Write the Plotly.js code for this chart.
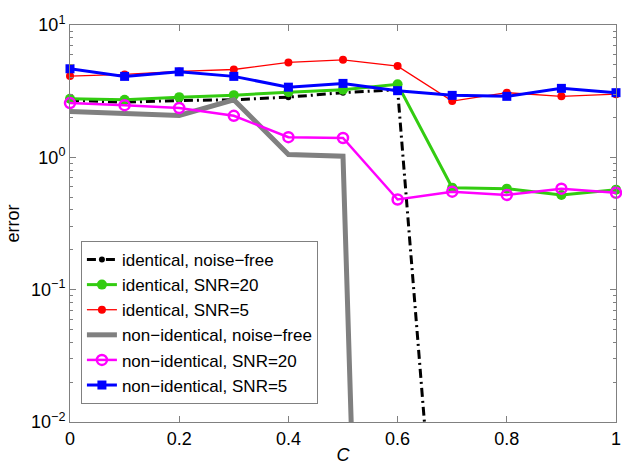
<!DOCTYPE html>
<html>
<head>
<meta charset="utf-8">
<script src="https://cdn.plot.ly/plotly-3.0.1.min.js"></script>
<style>html,body{margin:0;padding:0;background:#fff;}#chart{width:622px;height:467px;}</style>
</head>
<body>
<div id="chart"></div>
<script>
const C = [0, 0.1, 0.2, 0.3, 0.4, 0.5, 0.6, 0.7, 0.8, 0.9, 1.0];

const identicalNoiseFree  = [2.69, 2.61, 2.69, 2.72, 2.85, 3.08, 3.24, 2.5e-5, 1e-5, 1e-5, 1e-5];
const identicalSNR20      = [2.77, 2.72, 2.85, 2.95, 3.10, 3.24, 3.56, 0.59, 0.58, 0.52, 0.57];
const identicalSNR5       = [4.11, 4.23, 4.46, 4.61, 5.21, 5.46, 4.89, 2.66, 3.08, 2.89, 3.00];
const nonIdenticalNoiseFree = [2.22, 2.16, 2.07, 2.72, 1.05, 1.02, 4e-14, 1e-14, 1e-14, 1e-14, 1e-14];
const nonIdenticalSNR20   = [2.57, 2.48, 2.36, 2.06, 1.42, 1.40, 0.48, 0.55, 0.52, 0.58, 0.54];
const nonIdenticalSNR5    = [4.67, 4.09, 4.43, 4.09, 3.39, 3.62, 3.19, 2.94, 2.89, 3.32, 3.08];

const seriesNames = [
  'identical, noise\u2212free',
  'identical, SNR=20',
  'identical, SNR=5',
  'non\u2212identical, noise\u2212free',
  'non\u2212identical, SNR=20',
  'non\u2212identical, SNR=5'
];

const yTickVals = [0.01, 0.1, 1, 10];
const yTickText = ['10<sup>\u22122</sup>', '10<sup>\u22121</sup>', '10<sup>0</sup>', '10<sup>1</sup>'];
const xTickVals = [0, 0.2, 0.4, 0.6, 0.8, 1];
const xTickText = ['0', '0.2', '0.4', '0.6', '0.8', '1'];

const traces = [
  {x: C, y: identicalNoiseFree, name: seriesNames[0], mode: 'lines+markers', cliponaxis: false,
   line: {color: '#000000', width: 3, dash: '9px,4px,2px,4px'},
   marker: {symbol: 'circle', size: 6, color: '#000000'}},
  {x: C, y: identicalSNR20, name: seriesNames[1], mode: 'lines+markers', cliponaxis: false,
   line: {color: '#33cc11', width: 3},
   marker: {symbol: 'circle', size: 10, color: '#33cc11'}},
  {x: C, y: identicalSNR5, name: seriesNames[2], mode: 'lines+markers', cliponaxis: false,
   line: {color: '#ff0000', width: 1.3},
   marker: {symbol: 'circle', size: 8, color: '#ff0000'}},
  {x: C, y: nonIdenticalNoiseFree, name: seriesNames[3], mode: 'lines',
   line: {color: '#808080', width: 5}},
  {x: C, y: nonIdenticalSNR20, name: seriesNames[4], mode: 'lines+markers', cliponaxis: false,
   line: {color: '#ff00ff', width: 2.5},
   marker: {symbol: 'circle-open', size: 10, color: '#ff00ff', line: {width: 2.5, color: '#ff00ff'}}},
  {x: C, y: nonIdenticalSNR5, name: seriesNames[5], mode: 'lines+markers', cliponaxis: false,
   line: {color: '#0000ff', width: 3},
   marker: {symbol: 'square', size: 9, color: '#0000ff'}}
];

const minorY = [];
[0.01, 0.1, 1].forEach(d => { for (let k = 2; k <= 9; k++) minorY.push(d * k); });

const fontFam = 'Liberation Sans, Arial, sans-serif';

const layout = {
  width: 622, height: 467,
  margin: {l: 70, r: 6, t: 25, b: 45},
  paper_bgcolor: '#ffffff', plot_bgcolor: '#ffffff',
  font: {family: fontFam, size: 18, color: '#000000'},
  showlegend: true,
  legend: {
    x: 0.02, y: 0.456, xanchor: 'left', yanchor: 'top',
    bgcolor: '#ffffff', bordercolor: '#808080', borderwidth: 1,
    font: {family: fontFam, size: 17, color: '#000000'},
    tracegroupgap: 0
  },
  xaxis: {
    range: [0, 1], tickmode: 'array', tickvals: xTickVals, ticktext: xTickText,
    ticks: 'inside', ticklen: 6, tickcolor: '#808080', mirror: 'ticks',
    showline: true, linecolor: '#808080', linewidth: 1,
    showgrid: false, zeroline: false, ticklabeloverflow: 'allow',
    tickfont: {family: fontFam, size: 18, color: '#000000'},
    title: {text: '<i>C</i>', font: {family: fontFam, size: 18, color: '#000000'}, standoff: 0}
  },
  yaxis: {
    type: 'log', range: [-2, 1], tickmode: 'array', tickvals: yTickVals, ticktext: yTickText,
    ticks: 'inside', ticklen: 6, tickcolor: '#808080', mirror: 'ticks',
    showline: true, linecolor: '#808080', linewidth: 1,
    showgrid: false, zeroline: false,
    minor: {tickmode: 'array', tickvals: minorY, ticks: 'inside', ticklen: 3, tickcolor: '#808080', showgrid: false},
    tickfont: {family: fontFam, size: 18, color: '#000000'},
    title: {text: 'error', font: {family: fontFam, size: 18, color: '#000000'}, standoff: 6}
  }
};

Plotly.newPlot('chart', traces, layout, {displayModeBar: false, staticPlot: true});
</script>
</body>
</html>
